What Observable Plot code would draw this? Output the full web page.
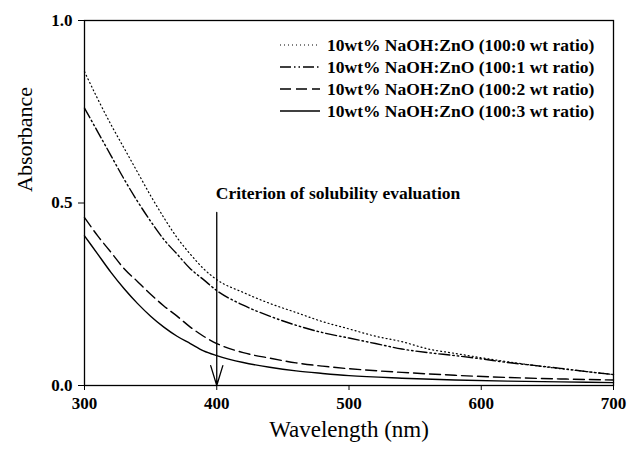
<!DOCTYPE html>
<html>
<head>
<meta charset="utf-8">
<script src="https://cdn.jsdelivr.net/npm/d3@7"></script>
<script src="https://cdn.jsdelivr.net/npm/@observablehq/plot@0.6"></script>
<style>
  html, body { margin: 0; padding: 0; background: #fff; }
</style>
</head>
<body>
<div id="chart"></div>
<script>
// Wavelength grids (nm) and absorbance values
const wl0 = [300,310,320,330,340,350,360,370,380,390,400,420,440,460,480,500,520,540,560,580,600,620,640,660,680,700];
const abs0 = [0.86,0.785,0.715,0.65,0.585,0.52,0.46,0.405,0.36,0.32,0.29,0.255,0.225,0.20,0.175,0.155,0.135,0.12,0.10,0.088,0.076,0.065,0.055,0.046,0.038,0.03];
const wl1 = [300,310,320,330,340,350,360,370,380,390,400,420,440,460,480,500,520,540,560,580,600,620,640,660,680,700];
const abs1 = [0.76,0.695,0.63,0.565,0.505,0.45,0.40,0.36,0.32,0.29,0.26,0.22,0.19,0.165,0.145,0.13,0.115,0.10,0.09,0.082,0.073,0.063,0.055,0.047,0.038,0.03];
const wl2 = [300,310,320,330,340,350,360,370,380,390,400,420,440,460,480,500,540,580,620,660,700];
const abs2 = [0.46,0.41,0.365,0.32,0.285,0.25,0.218,0.19,0.16,0.135,0.115,0.09,0.075,0.062,0.053,0.046,0.036,0.028,0.022,0.018,0.015];
const wl3 = [300,310,320,330,340,350,360,370,380,390,400,420,440,460,480,500,540,580,620,660,700];
const abs3 = [0.41,0.36,0.31,0.265,0.225,0.19,0.16,0.135,0.115,0.095,0.082,0.063,0.05,0.04,0.033,0.027,0.02,0.015,0.012,0.01,0.008];

const seriesNames = [
  "10wt% NaOH:ZnO (100:0 wt ratio)",
  "10wt% NaOH:ZnO (100:1 wt ratio)",
  "10wt% NaOH:ZnO (100:2 wt ratio)",
  "10wt% NaOH:ZnO (100:3 wt ratio)"
];
const dashes = ["1,3", "11,3,1.5,3,1.5,3", "11,5", null];

const xTicks = [300, 400, 500, 600, 700];
const yTicks = [0.0, 0.5, 1.0];
const criterionX = 400;
const criterionLabel = "Criterion of solubility evaluation";

const wls = [wl0, wl1, wl2, wl3];
const abss = [abs0, abs1, abs2, abs3];
const rows = [];
wls.forEach((w, s) => w.forEach((x, i) => rows.push({series: s, x, y: abss[s][i]})));

const serif = "'Liberation Serif', 'Times New Roman', serif";

const plot = Plot.plot({
  width: 627,
  height: 450,
  marginLeft: 84,
  marginRight: 14,
  marginTop: 20,
  marginBottom: 65,
  style: {fontFamily: serif, fontSize: "17px", fontWeight: "bold", color: "#000", background: "#fff"},
  x: {domain: [300, 700]},
  y: {domain: [0, 1]},
  marks: [
    Plot.frame({stroke: "#000", strokeWidth: 1.3}),
    Plot.axisX({ticks: xTicks, tickSize: 5, tickPadding: 6, label: null, tickFormat: d => String(d), fontWeight: "bold", fontSize: 17}),
    Plot.axisY({ticks: yTicks, tickSize: 6, tickPadding: 6, label: null, tickFormat: d => d.toFixed(1), fontWeight: "bold", fontSize: 17}),
    ...[0,1,2,3].map(s => Plot.line(rows.filter(d => d.series === s), {
      x: "x", y: "y", stroke: "#000", strokeWidth: s === 0 ? 1.2 : 1.4,
      strokeDasharray: dashes[s], curve: "monotone-x"
    })),
    Plot.arrow([{x: criterionX, y1: 0.474, y2: 0.0}], {
      x1: "x", x2: "x", y1: "y1", y2: "y2", stroke: "#000", strokeWidth: 1.3,
      headLength: 24, headAngle: 34, insetEnd: 0
    }),
    Plot.text([criterionLabel], {
      x: criterionX, y: 0.525, text: d => d, textAnchor: "start", dx: -1,
      fontWeight: "bold", fontSize: 17.5
    }),
    Plot.text(["Absorbance"], {frameAnchor: "left", text: d => d, rotate: -90, dx: -60, dy: -11, fontSize: 22, fontWeight: "normal"}),
    Plot.text(["Wavelength (nm)"], {frameAnchor: "bottom", text: d => d, dy: 51, fontSize: 23, fontWeight: "normal"})
  ]
});

// Legend inside the plot area, top right
const svg = d3.select(plot);
const leg = svg.append("g").attr("transform", "translate(280,45)");
seriesNames.forEach((name, i) => {
  const g = leg.append("g").attr("transform", `translate(0,${i * 22})`);
  g.append("line").attr("x1", 0).attr("x2", 40).attr("y1", 0).attr("y2", 0)
    .attr("stroke", "#000").attr("stroke-width", i === 0 ? 1.2 : 1.4)
    .attr("stroke-dasharray", dashes[i]);
  g.append("text").attr("x", 47).attr("y", 0).attr("dy", "0.35em")
    .attr("text-anchor", "start")
    .attr("font-family", serif).attr("font-size", 17.5).attr("font-weight", "bold")
    .attr("fill", "#000").text(name);
});

document.getElementById("chart").appendChild(plot);
</script>
</body>
</html>
